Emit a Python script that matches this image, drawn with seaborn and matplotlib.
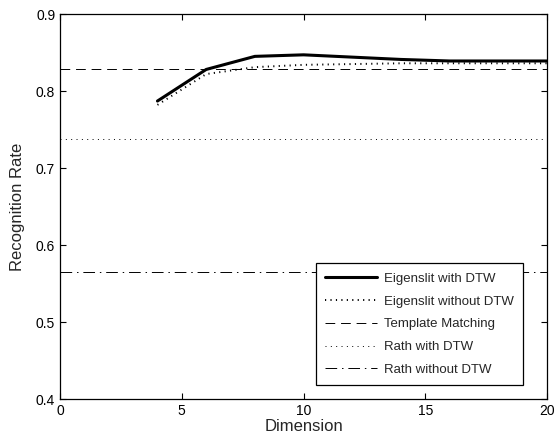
import pandas as pd
import seaborn as sns
import matplotlib
matplotlib.use('Agg')
import matplotlib.pyplot as plt

# dados
dimension = [4, 6, 8, 10, 12, 14, 16, 18, 20]
eigen_dtw = [0.787, 0.828, 0.845, 0.847, 0.844, 0.841, 0.839, 0.839, 0.839]
eigen_no_dtw = [0.782, 0.822, 0.831, 0.834, 0.835, 0.836, 0.836, 0.836, 0.836]
template_matching = 0.829
rath_dtw = 0.738
rath_no_dtw = 0.565

df = pd.DataFrame({'Dimension': dimension,
                   'Eigenslit with DTW': eigen_dtw,
                   'Eigenslit without DTW': eigen_no_dtw})

sns.set_style('ticks')
plt.rcParams['font.family'] = ['Liberation Sans', 'DejaVu Sans']

fig = plt.figure(figsize=(5.56, 4.38), dpi=100)
ax = fig.add_axes([0.108, 0.089, 0.876, 0.879])

sns.lineplot(x='Dimension', y='Eigenslit with DTW', data=df, ax=ax,
             color='black', linewidth=2.2, label='Eigenslit with DTW')
sns.lineplot(x='Dimension', y='Eigenslit without DTW', data=df, ax=ax,
             color='black', linewidth=1.4, linestyle=(0, (0.6, 2.2)),
             label='Eigenslit without DTW')

# linhas horizontais de referência
ax.axhline(template_matching, color='black', linewidth=0.7,
           linestyle=(0, (10, 6)), label='Template Matching')
ax.axhline(rath_dtw, color='black', linewidth=0.7,
           linestyle=(0, (1, 4.5)), label='Rath with DTW')
ax.axhline(rath_no_dtw, color='black', linewidth=0.7,
           linestyle=(0, (12, 5, 1.5, 5)), label='Rath without DTW')

ax.set_xlim(0, 20)
ax.set_ylim(0.4, 0.9)
ax.set_xticks([0, 5, 10, 15, 20])
ax.set_yticks([0.4, 0.5, 0.6, 0.7, 0.8, 0.9])
ax.tick_params(direction='in', top=True, right=True, labelsize=10, length=4,
               width=0.8, colors='black')
for s in ax.spines.values():
    s.set_linewidth(0.9)
    s.set_color('black')

ax.set_xlabel('Dimension', fontsize=12, labelpad=1)
ax.set_ylabel('Recognition Rate', fontsize=12, labelpad=8)

leg = ax.legend(loc='lower right', bbox_to_anchor=(0.951, 0.036),
                fontsize=9.5, frameon=True, fancybox=False,
                edgecolor='black', framealpha=1, borderaxespad=0,
                handlelength=3.9, handletextpad=0.55, labelspacing=0.8,
                borderpad=0.7)
leg.get_frame().set_linewidth(0.9)

plt.savefig('out.png', dpi=100)
